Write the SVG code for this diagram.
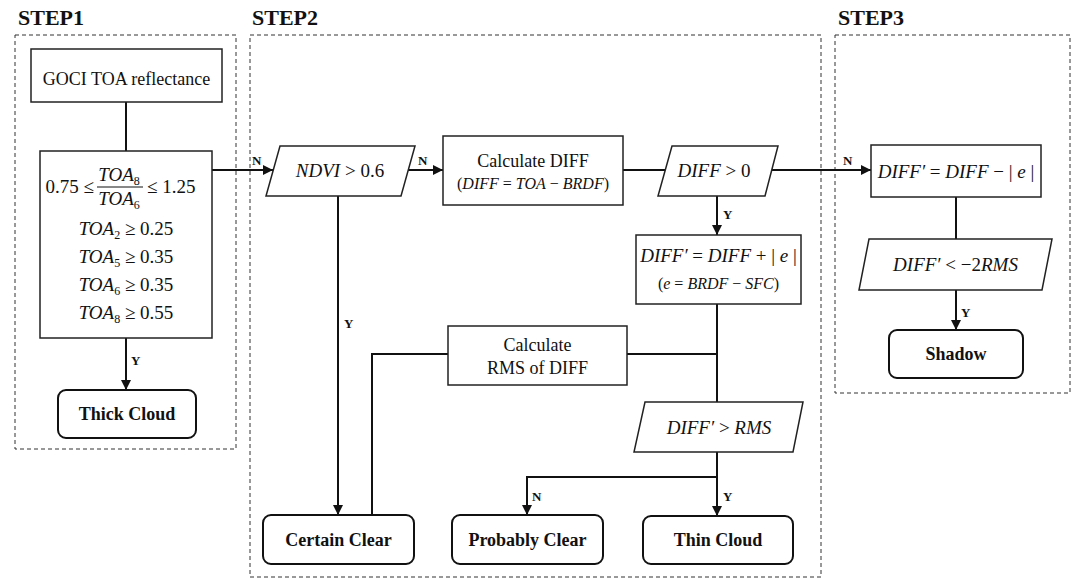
<svg xmlns="http://www.w3.org/2000/svg" width="1076" height="581" viewBox="0 0 1076 581">
<style>
text{font-family:"Liberation Serif","Times New Roman",serif;fill:#111}
.step{font-size:22px;font-weight:bold}
.frame{fill:none;stroke:#333;stroke-width:1;stroke-dasharray:4 3}
.box{fill:#fff;stroke:#222;stroke-width:1.5}
.term{fill:#fff;stroke:#111;stroke-width:2}
.t{font-size:18px;text-anchor:middle}
.m{font-size:19px;text-anchor:middle}
.s{font-size:16px;text-anchor:middle}
.b{font-size:18px;font-weight:bold;text-anchor:middle}
.lbl{font-size:13px;font-weight:bold}
.i{font-style:italic}
.sub{font-size:12px}
.line{fill:none;stroke:#111;stroke-width:2}
.arr{fill:none;stroke:#111;stroke-width:2;marker-end:url(#ah)}
</style>
<defs>
<marker id="ah" viewBox="0 0 10 10" refX="10" refY="5" markerWidth="5" markerHeight="5" orient="auto" markerUnits="strokeWidth">
<path d="M0,0 L10,5 L0,10 z" fill="#111"/>
</marker>
</defs>
<rect width="1076" height="581" fill="#fff"/>

<g id="frames">
<rect class="frame" x="15" y="35" width="221" height="414"/>
<rect class="frame" x="250" y="35" width="571" height="542"/>
<rect class="frame" x="835" y="35" width="235" height="358"/>
<text class="step" x="18" y="25">STEP1</text>
<text class="step" x="252" y="25">STEP2</text>
<text class="step" x="838" y="25">STEP3</text>
</g>

<g id="connectors">
<path class="line" d="M126,102 V151"/>
<path class="arr" d="M126,338 V390"/>
<text class="lbl" x="131" y="365">Y</text>
<path class="arr" d="M212,170 H273"/>
<text class="lbl" x="252" y="165">N</text>
<path class="arr" d="M408,170 H443"/>
<text class="lbl" x="418" y="165">N</text>
<path class="line" d="M623,170 H665"/>
<path class="arr" d="M772,170 H871"/>
<text class="lbl" x="843" y="165">N</text>
<path class="arr" d="M717,196 V235"/>
<text class="lbl" x="723" y="219">Y</text>
<path class="arr" d="M338,196 V515"/>
<text class="lbl" x="344" y="328">Y</text>
<path class="line" d="M448,354 H372 V515"/>
<path class="line" d="M627,354 H717"/>
<path class="line" d="M717,304 V402"/>
<path class="arr" d="M717,452 V516"/>
<text class="lbl" x="723" y="501">Y</text>
<path class="arr" d="M717,477 H527 V515"/>
<text class="lbl" x="532" y="501">N</text>
<path class="line" d="M956,197 V239"/>
<path class="arr" d="M956,290 V330"/>
<text class="lbl" x="961" y="317">Y</text>
</g>

<g id="goci">
<rect class="box" x="31" y="49" width="191" height="53"/>
<text class="t" x="126.5" y="85">GOCI TOA reflectance</text>
</g>

<g id="thresholds">
<rect class="box" x="40" y="151" width="172" height="187"/>
<text class="m" x="94" y="193" style="text-anchor:end">0.75 ≤</text>
<text class="m" x="119" y="181"><tspan class="i">TOA</tspan><tspan class="sub" dy="4">8</tspan></text>
<line x1="97" y1="187" x2="143" y2="187" stroke="#111" stroke-width="1"/>
<text class="m" x="119" y="205"><tspan class="i">TOA</tspan><tspan class="sub" dy="4">6</tspan></text>
<text class="m" x="147" y="193" style="text-anchor:start">≤ 1.25</text>
<text class="m" x="126" y="235"><tspan class="i">TOA</tspan><tspan class="sub" dy="4">2</tspan><tspan dy="-4"> ≥ 0.25</tspan></text>
<text class="m" x="126" y="263"><tspan class="i">TOA</tspan><tspan class="sub" dy="4">5</tspan><tspan dy="-4"> ≥ 0.35</tspan></text>
<text class="m" x="126" y="291"><tspan class="i">TOA</tspan><tspan class="sub" dy="4">6</tspan><tspan dy="-4"> ≥ 0.35</tspan></text>
<text class="m" x="126" y="319"><tspan class="i">TOA</tspan><tspan class="sub" dy="4">8</tspan><tspan dy="-4"> ≥ 0.55</tspan></text>
</g>

<g id="thick-cloud">
<rect class="term" x="58" y="390" width="138" height="48" rx="8"/>
<text class="b" x="127" y="420">Thick Cloud</text>
</g>

<g id="ndvi">
<polygon class="box" points="280,146 415,146 401,196 266,196"/>
<text class="m" x="340" y="177"><tspan class="i">NDVI</tspan> &gt; 0.6</text>
</g>

<g id="calc-diff">
<rect class="box" x="443" y="136" width="180" height="69"/>
<text class="t" x="533" y="167">Calculate DIFF</text>
<text class="s" x="533" y="189">(<tspan class="i">DIFF</tspan> = <tspan class="i">TOA</tspan> − <tspan class="i">BRDF</tspan>)</text>
</g>

<g id="diff-gt-0">
<polygon class="box" points="672,146 778,146 765,196 658,196"/>
<text class="m" x="714" y="177"><tspan class="i">DIFF</tspan> &gt; 0</text>
</g>

<g id="diff-prime-plus">
<rect class="box" x="636" y="235" width="165" height="69"/>
<text class="m" x="718.5" y="262"><tspan class="i">DIFF′</tspan> = <tspan class="i">DIFF</tspan> + | <tspan class="i">e</tspan> |</text>
<text class="s" x="718.5" y="289">(<tspan class="i">e</tspan> = <tspan class="i">BRDF</tspan> − <tspan class="i">SFC</tspan>)</text>
</g>

<g id="calc-rms">
<rect class="box" x="448" y="326" width="179" height="59"/>
<text class="t" x="537.5" y="351">Calculate</text>
<text class="t" x="537.5" y="374">RMS of DIFF</text>
</g>

<g id="diff-prime-gt-rms">
<polygon class="box" points="645,402 803,402 793,452 634,452"/>
<text class="m" x="719" y="434"><tspan class="i">DIFF′</tspan> &gt; <tspan class="i">RMS</tspan></text>
</g>

<g id="certain-clear">
<rect class="term" x="263" y="515" width="151" height="49" rx="8"/>
<text class="b" x="338.5" y="546">Certain Clear</text>
</g>

<g id="probably-clear">
<rect class="term" x="452" y="515" width="151" height="49" rx="8"/>
<text class="b" x="527.5" y="546">Probably Clear</text>
</g>

<g id="thin-cloud">
<rect class="term" x="643" y="516" width="150" height="48" rx="8"/>
<text class="b" x="718" y="546">Thin Cloud</text>
</g>

<g id="diff-prime-minus">
<rect class="box" x="871" y="145" width="170" height="52"/>
<text class="m" x="956" y="178"><tspan class="i">DIFF′</tspan> = <tspan class="i">DIFF</tspan> − | <tspan class="i">e</tspan> |</text>
</g>

<g id="diff-prime-lt-rms">
<polygon class="box" points="869,239 1052,239 1042,290 859,290"/>
<text class="m" x="955.5" y="271"><tspan class="i">DIFF′</tspan> &lt; −2<tspan class="i">RMS</tspan></text>
</g>

<g id="shadow">
<rect class="term" x="889" y="330" width="134" height="48" rx="8"/>
<text class="b" x="956" y="360">Shadow</text>
</g>
</svg>
